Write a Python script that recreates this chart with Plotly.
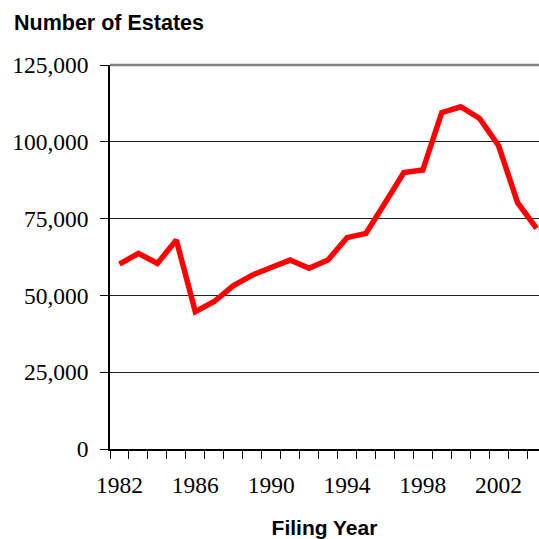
import plotly.graph_objects as go

years = list(range(1982, 2005))
estates = [60200, 63700, 60400, 68000, 44700, 48000, 53100, 56600, 59100, 61500,
           58800, 61500, 68800, 70200, 80000, 90000, 90800, 109500, 111400, 107600,
           98700, 80200, 71800]
y_tick_vals = [0, 25000, 50000, 75000, 100000, 125000]
x_tick_vals = [1982, 1986, 1990, 1994, 1998, 2002]

fig = go.Figure()
fig.add_trace(go.Scatter(x=years, y=estates, mode="lines",
                         line=dict(color="#FF0000", width=5.5), showlegend=False))

fig.update_layout(
    width=539, height=539,
    margin=dict(l=110, r=0, t=65, b=90),
    paper_bgcolor="white", plot_bgcolor="white",
    title=dict(text="<b>Number of Estates</b>", x=14/539, xanchor="left",
               y=1-22/539, yanchor="middle", yref="container",
               font=dict(family="Liberation Sans", size=21.5, color="black")),
    xaxis=dict(range=[1981.5, 2004.13], tickvals=x_tick_vals, ticks="",
               showgrid=False, zeroline=False, ticklabelstandoff=14,
               showline=True, linecolor="black", linewidth=1.5,
               tickfont=dict(family="Liberation Serif", size=23.5, color="black"),
               minor=dict(tickmode="linear", tick0=1981.5, dtick=1, ticks="outside",
                          ticklen=8, tickcolor="black", tickwidth=1, showgrid=False),
               title=dict(text="<b>Filing Year</b>", standoff=23,
                          font=dict(family="Liberation Sans", size=21, color="black"))),
    yaxis=dict(range=[0, 125000], tickvals=y_tick_vals, tickformat=",d",
               ticks="outside", ticklen=8, tickcolor="black", ticklabelstandoff=7,
               showgrid=True, gridcolor="#222222", gridwidth=1, zeroline=False,
               showline=True, linecolor="black", linewidth=1.5,
               tickfont=dict(family="Liberation Serif", size=23.5, color="black")),
    shapes=[dict(type="line", xref="paper", yref="paper", x0=0, x1=1, y0=1, y1=1,
                 line=dict(color="#808080", width=2.5))],
)

fig.write_html("out.html")
